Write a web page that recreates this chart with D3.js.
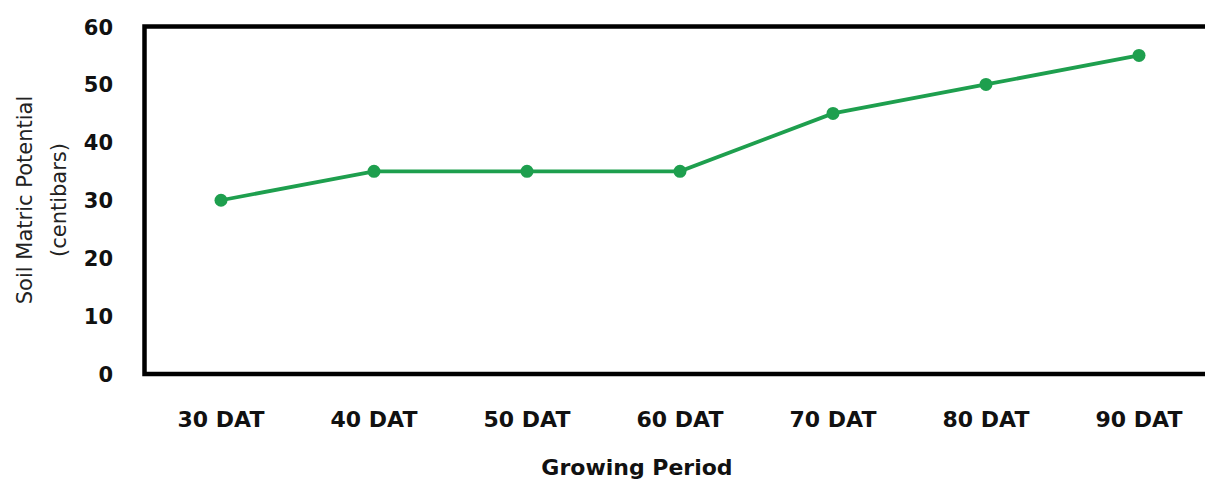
<!DOCTYPE html>
<html>
<head>
<meta charset="utf-8">
<script src="https://cdn.jsdelivr.net/npm/d3@7"></script>
<style>
  html, body { margin: 0; padding: 0; background: #fff; }
  svg { display: block; }
</style>
</head>
<body>
<svg id="chart" width="1205" height="481"></svg>
<script>
const categories = ["30 DAT", "40 DAT", "50 DAT", "60 DAT", "70 DAT", "80 DAT", "90 DAT"];
const values = [30, 35, 35, 35, 45, 50, 55];
const yTicks = [0, 10, 20, 30, 40, 50, 60];
const xTitle = "Growing Period";
const yTitleLines = ["Soil Matric Potential", "(centibars)"];

const svg = d3.select("#chart");
const m = { left: 144.5, right: 1215.5, top: 26.5, bottom: 374 };

const x = d3.scaleBand().domain(categories).range([m.left, m.right]).padding(0);
const y = d3.scaleLinear().domain([0, 60]).range([m.bottom, m.top]);

const font = "'DejaVu Sans', sans-serif";

// Plot border
svg.append("rect")
  .attr("x", m.left).attr("y", m.top)
  .attr("width", m.right - m.left).attr("height", m.bottom - m.top)
  .attr("fill", "none").attr("stroke", "#000").attr("stroke-width", 4.5);

// Y axis labels
const yAxis = d3.axisLeft(y).tickValues(yTicks).tickSize(0).tickPadding(0).tickFormat(d3.format("d"));
const gy = svg.append("g").attr("transform", `translate(113,0)`).call(yAxis);
gy.select(".domain").remove();
gy.selectAll("text")
  .attr("font-family", font).attr("font-weight", "bold").attr("font-size", 21)
  .attr("fill", "#111").attr("dy", "0.36em").attr("x", 0);

// X axis labels
const xAxis = d3.axisBottom(x).tickSize(0).tickPadding(0);
const gx = svg.append("g").attr("transform", `translate(0,427)`).call(xAxis);
gx.select(".domain").remove();
gx.selectAll("text")
  .attr("font-family", font).attr("font-weight", "bold").attr("font-size", 22)
  .attr("fill", "#111").attr("dy", 0).attr("y", 0);

// X title
svg.append("text")
  .attr("x", 637).attr("y", 475)
  .attr("text-anchor", "middle")
  .attr("font-family", font).attr("font-weight", "bold").attr("font-size", 22)
  .attr("fill", "#111")
  .text(xTitle);

// Y title
const yBase = [32, 66];
yTitleLines.forEach((t, i) => {
  svg.append("text")
    .attr("transform", `translate(${yBase[i]},200) rotate(-90)`)
    .attr("text-anchor", "middle")
    .attr("font-family", font).attr("font-size", 21)
    .attr("fill", "#222")
    .text(t);
});

// Line
const cx = d => x(d) + x.bandwidth() / 2;
const green = "#1e9f4e";
const line = d3.line().x((d, i) => cx(categories[i])).y(d => y(d));
svg.append("path")
  .datum(values)
  .attr("d", line)
  .attr("fill", "none").attr("stroke", green).attr("stroke-width", 3.8);

svg.selectAll("circle.pt")
  .data(values)
  .enter().append("circle")
  .attr("class", "pt")
  .attr("cx", (d, i) => cx(categories[i]))
  .attr("cy", d => y(d))
  .attr("r", 6.5)
  .attr("fill", green);
</script>
</body>
</html>
